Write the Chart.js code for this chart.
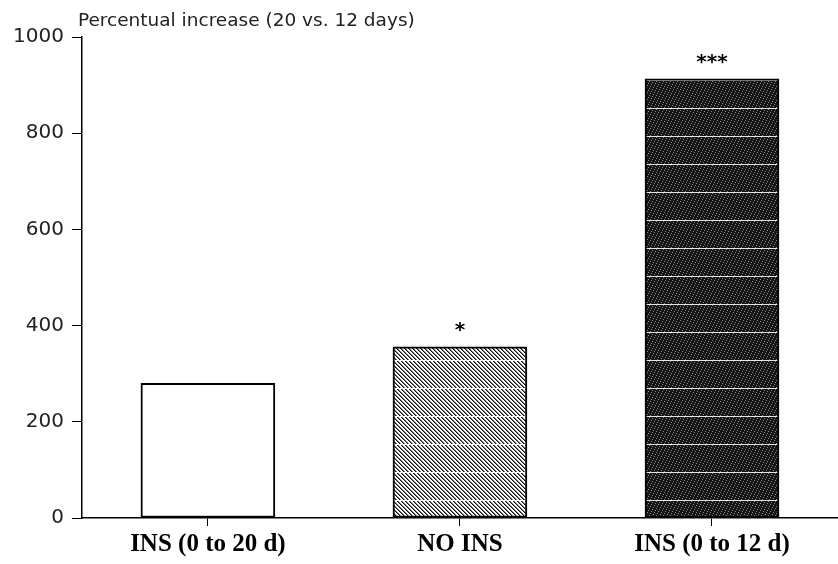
<!DOCTYPE html>
<html>
<head>
<meta charset="utf-8">
<script src="https://cdn.jsdelivr.net/npm/chart.js@4"></script>
<style>
  body { margin: 0; background: #fff; }
</style>
</head>
<body>
<canvas id="increaseChart" width="838" height="564"></canvas>
<script>
// values
const groups = ['INS (0 to 20 d)', 'NO INS', 'INS (0 to 12 d)'];
const increase = [280, 356, 913];
const stars = ['', '*', '***'];
const yTicks = [0, 200, 400, 600, 800, 1000];

// diagonal hatch for the NO INS bar (drawn pixel by pixel so the tile seams stay clean)
function hatchPattern(ctx) {
    const c = document.createElement('canvas');
    c.width = 4; c.height = 28;
    const g = c.getContext('2d');
    g.fillStyle = '#fff';
    g.fillRect(0, 0, 4, 28);
    for (let y = 0; y < 28; y++) {
        g.fillStyle = '#111';
        g.fillRect(y % 4, y, 1, 1);
        g.fillStyle = '#777';
        g.fillRect((y + 1) % 4, y, 1, 1);
    }
    // scan streak
    g.fillStyle = '#fff';
    g.fillRect(0, 24, 4, 1);
    return ctx.createPattern(c, 'repeat');
}

// dark stipple for the INS (0 to 12 d) bar
function stipplePattern(ctx) {
    const c = document.createElement('canvas');
    c.width = 7; c.height = 28;
    const g = c.getContext('2d');
    g.fillStyle = '#151515';
    g.fillRect(0, 0, 7, 28);
    g.fillStyle = '#8a8a8a';
    for (let y = 0; y < 28; y++) {
        for (let x = 0; x < 7; x++) {
            if ((x * 3 + y * 5) % 7 === 0) g.fillRect(x, y, 1, 1);
        }
    }
    g.fillStyle = '#e8e8e8';
    g.fillRect(0, 24, 7, 1);
    return ctx.createPattern(c, 'repeat');
}

// significance stars and the y-axis caption
const annotations = {
    id: 'annotations',
    afterDatasetsDraw(chart) {
        const ctx = chart.ctx;
        const meta = chart.getDatasetMeta(0);
        ctx.save();
        ctx.fillStyle = '#000';
        ctx.font = 'bold 20px "DejaVu Sans"';
        ctx.textAlign = 'center';
        ctx.textBaseline = 'middle';
        meta.data.forEach((bar, i) => {
            if (stars[i]) ctx.fillText(stars[i], bar.x, bar.y - 16);
        });
        ctx.font = '18.5px "DejaVu Sans"';
        ctx.fillStyle = '#222';
        ctx.textAlign = 'left';
        ctx.textBaseline = 'alphabetic';
        ctx.fillText('Percentual increase (20 vs. 12 days)', chart.chartArea.left - 4, 26);
        ctx.restore();
    }
};

const canvas = document.getElementById('increaseChart');
const ctx = canvas.getContext('2d');

new Chart(ctx, {
    type: 'bar',
    data: {
        labels: groups,
        datasets: [{
            data: increase,
            backgroundColor: ['#fff', hatchPattern(ctx), stipplePattern(ctx)],
            borderColor: '#000',
            borderWidth: 2,
            borderSkipped: false,
            barThickness: 134
        }]
    },
    options: {
        responsive: false,
        animation: false,
        layout: { padding: { top: 37, left: 5, right: 0, bottom: 0 } },
        plugins: {
            legend: { display: false },
            tooltip: { enabled: false }
        },
        scales: {
            x: {
                grid: { drawOnChartArea: false, offset: false, color: '#000', tickLength: 8 },
                border: { color: '#000', width: 1.5 },
                ticks: {
                    padding: 4,
                    color: '#000',
                    font: { family: '"Liberation Serif"', size: 25, weight: 'bold' }
                }
            },
            y: {
                min: 0,
                max: 1000,
                afterBuildTicks: scale => { scale.ticks = yTicks.map(v => ({ value: v })); },
                grid: { drawOnChartArea: false, color: '#000', tickLength: 10 },
                border: { color: '#000', width: 1.5 },
                ticks: {
                    padding: 8,
                    color: '#222',
                    font: { family: '"DejaVu Sans"', size: 20 },
                    callback: value => String(value)
                }
            }
        }
    },
    plugins: [annotations]
});
</script>
</body>
</html>
